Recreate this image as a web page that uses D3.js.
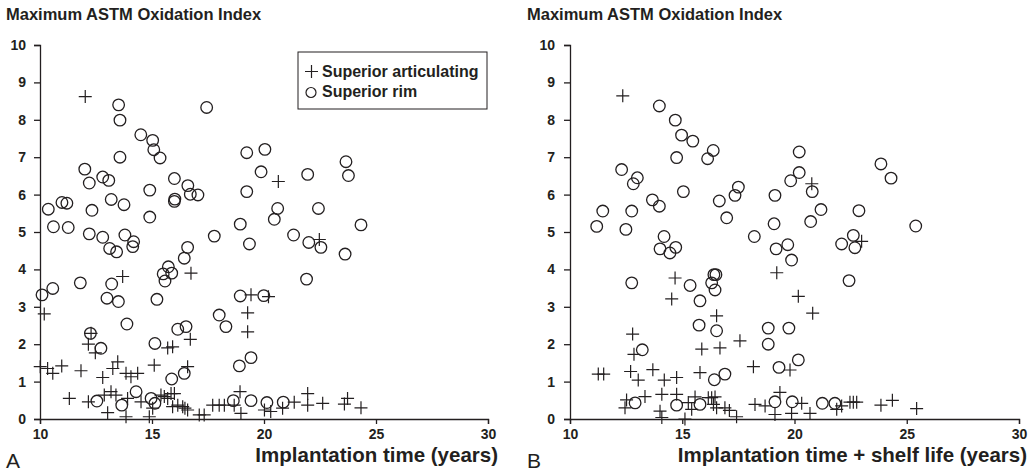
<!DOCTYPE html>
<html>
<head>
<meta charset="utf-8">
<script src="https://cdn.jsdelivr.net/npm/d3@7"></script>
<style>
    body { margin: 0; background: #fff; }
    text { font-family: "Liberation Sans", Arial, sans-serif; fill: #231f20; }
    .axis path, .axis line { stroke: #231f20; stroke-width: 1.3; }
    .axis text { font-size: 14px; font-weight: bold; }
</style>
</head>
<body>
<script>
// Panel A: implantation time vs max oxidation index
var aArticulating = [
    [12.02, 8.62], [20.64, 6.35], [22.47, 4.80], [13.69, 3.81], [16.74, 3.90],
    [19.42, 3.32], [20.2, 3.27], [19.27, 2.84], [19.27, 2.33], [10.19, 2.81],
    [12.28, 2.29], [12.16, 2.0], [12.47, 1.77], [15.7, 1.9], [15.92, 1.93], [16.71, 2.13],
    [10.01, 1.40], [10.34, 1.35], [10.57, 1.22], [10.97, 1.42], [11.83, 1.29],
    [12.8, 1.11], [13.25, 1.35], [13.47, 1.53], [13.84, 1.22], [14.06, 1.13],
    [14.36, 1.22], [15.1, 1.44], [16.59, 1.40],
    [11.31, 0.55], [12.16, 0.46], [12.87, 0.64], [13.02, 0.17], [13.17, 0.73],
    [13.39, 0.64], [13.84, 0.06], [13.91, 0.55], [14.51, 0.46], [14.88, 0.06],
    [15.03, 0.29], [15.4, 0.64], [15.55, 0.6], [15.7, 0.55], [15.85, 0.68],
    [16.0, 0.68], [15.92, 0.33], [16.15, 0.37], [16.37, 0.33], [16.47, 0.29],
    [16.59, 0.24], [17.11, 0.11], [17.33, 0.11], [17.71, 0.37], [18.0, 0.37],
    [18.23, 0.37], [18.67, 0.37], [18.93, 0.73], [18.97, 0.15], [20.02, 0.24],
    [20.3, 0.2], [20.83, 0.29], [21.35, 0.45], [21.95, 0.68], [21.95, 0.37],
    [22.62, 0.42], [23.59, 0.40], [23.73, 0.55], [24.33, 0.30]
];
var aRim = [
    [10.37, 5.61], [10.98, 5.79], [11.2, 5.77], [10.6, 5.14], [11.26, 5.12],
    [12.0, 6.68], [12.2, 6.31], [12.32, 5.58], [12.8, 6.47], [13.07, 6.38],
    [13.18, 5.87], [13.51, 8.40], [13.57, 7.99], [13.57, 7.0], [13.75, 5.73],
    [14.5, 7.6], [15.03, 7.45], [15.08, 7.2], [15.36, 6.98], [14.9, 6.12],
    [14.9, 5.40], [16.0, 6.43], [16.0, 5.82], [16.02, 5.88], [16.6, 6.24],
    [16.71, 6.01], [17.05, 5.99], [17.44, 8.33], [18.94, 5.21], [19.23, 7.12],
    [19.23, 6.08], [20.04, 7.21], [19.87, 6.61], [21.95, 6.54], [23.66, 6.88],
    [23.77, 6.51], [20.61, 5.63], [20.46, 5.34], [22.43, 5.63], [24.33, 5.19],
    [12.2, 4.95], [12.8, 4.86], [13.11, 4.56], [13.42, 4.47], [13.79, 4.92],
    [14.18, 4.74], [14.14, 4.61], [17.78, 4.89], [19.35, 4.68], [15.73, 4.07],
    [15.5, 3.88], [15.88, 3.9], [15.58, 3.69], [16.44, 4.30], [16.59, 4.59],
    [10.09, 3.32], [10.57, 3.49], [11.8, 3.64], [13.2, 3.61], [12.99, 3.23],
    [13.5, 3.14], [15.22, 3.2], [13.88, 2.54], [12.25, 2.29], [12.72, 1.89],
    [15.13, 2.02], [16.15, 2.40], [16.52, 2.47], [15.88, 1.07], [16.44, 1.22],
    [18.0, 2.78], [18.3, 2.47], [18.94, 3.29], [18.9, 1.42], [19.42, 1.64],
    [12.54, 0.48], [13.65, 0.37], [14.29, 0.73], [14.96, 0.55], [15.13, 0.42],
    [18.63, 0.49], [19.42, 0.49], [21.32, 4.92], [22.0, 4.72], [22.54, 4.59],
    [23.62, 4.41], [21.9, 3.74], [19.99, 3.30], [20.13, 0.44], [20.86, 0.45]
];

// Panel B: implantation time + shelf life
var bArticulating = [
    [12.35, 8.64], [20.77, 6.29], [22.99, 4.75], [19.21, 3.91], [14.68, 3.77],
    [14.53, 3.21], [20.17, 3.28], [20.81, 2.83], [16.53, 2.76], [12.79, 2.27],
    [12.85, 1.73], [15.87, 1.87], [16.68, 1.9], [17.57, 2.09], [18.17, 1.40],
    [19.8, 1.31], [11.26, 1.2], [11.5, 1.2], [12.7, 1.27], [13.04, 1.04],
    [13.69, 1.32], [14.2, 1.04], [14.75, 1.11], [15.79, 1.24], [12.52, 0.51],
    [13.34, 0.6], [14.09, 0.66], [14.01, 0.21], [14.09, 0.04], [14.75, 0.66],
    [15.12, 0.0], [15.27, 0.44], [15.57, 0.59], [15.42, 0.26], [16.16, 0.57],
    [16.31, 0.57], [16.46, 0.59], [16.39, 0.39], [16.53, 0.30], [16.9, 0.3],
    [17.1, 0.23], [17.42, 0.06], [18.24, 0.39], [18.69, 0.35], [19.13, 0.12],
    [19.35, 0.71], [19.87, 0.15], [20.32, 0.42], [20.69, 0.15], [21.88, 0.26],
    [22.1, 0.35], [22.47, 0.45], [22.62, 0.45], [22.77, 0.45], [23.85, 0.37],
    [24.36, 0.5], [25.44, 0.28], [12.45, 0.3]
];
var bRim = [
    [13.98, 8.37], [14.69, 7.99], [14.97, 7.59], [15.47, 7.43], [16.38, 7.18],
    [16.13, 6.96], [14.75, 6.99], [12.3, 6.67], [12.82, 6.29], [13.0, 6.45],
    [15.05, 6.08], [13.67, 5.86], [13.98, 5.69], [11.46, 5.56], [12.75, 5.56],
    [16.65, 5.83], [16.98, 5.38], [17.5, 6.2], [17.35, 5.98], [19.13, 5.98],
    [19.09, 5.22], [11.19, 5.15], [12.49, 5.07], [20.21, 7.14], [20.21, 6.59],
    [19.83, 6.37], [20.79, 6.08], [21.18, 5.60], [20.72, 5.28], [22.87, 5.57],
    [23.85, 6.82], [24.3, 6.44], [25.4, 5.16], [22.62, 4.91], [22.1, 4.68],
    [22.69, 4.58], [19.18, 4.55], [19.7, 4.66], [19.87, 4.25], [22.43, 3.70],
    [18.83, 2.43], [19.75, 2.43], [18.83, 2.0], [20.17, 1.58], [19.31, 1.38],
    [14.19, 4.88], [14.01, 4.55], [14.45, 4.44], [14.71, 4.59], [18.21, 4.88],
    [12.75, 3.64], [15.35, 3.57], [16.31, 3.64], [16.41, 3.86], [16.5, 3.86],
    [16.46, 3.45], [15.79, 3.16], [15.75, 2.51], [16.53, 2.36], [13.22, 1.85],
    [16.43, 1.05], [16.9, 1.20], [12.9, 0.43], [14.75, 0.37], [15.79, 0.39],
    [19.13, 0.46], [19.9, 0.46], [21.24, 0.42], [21.8, 0.42]
];

var xTicks = [10, 15, 20, 25, 30];
var yTicks = [0, 1, 2, 3, 4, 5, 6, 7, 8, 9, 10];
var yTitle = "Maximum ASTM Oxidation Index";
var legendLabels = ["Superior articulating", "Superior rim"];

var svg = d3.select("body").append("svg")
    .attr("width", 1029)
    .attr("height", 473);

var ink = "#231f20";
var plusHalf = 6.5;

function drawPanel(p) {
    var x = d3.scaleLinear().domain([10, 30]).range([p.left, p.right]);
    var y = d3.scaleLinear().domain([0, 10]).range([419, 45]);

    svg.append("g")
        .attr("class", "axis")
        .attr("transform", "translate(0,419)")
        .call(d3.axisBottom(x).tickValues(xTicks).tickSize(5).tickPadding(5).tickFormat(d3.format("d")));

    svg.append("g")
        .attr("class", "axis")
        .attr("transform", "translate(" + p.left + ",0)")
        .call(d3.axisLeft(y).tickValues(yTicks).tickSize(6).tickPadding(p.yPad).tickFormat(d3.format("d")));

    svg.selectAll(".domain").attr("fill", "none");

    // y title sits above the axis
    svg.append("text")
        .attr("x", p.titleX)
        .attr("y", 20)
        .attr("font-size", "16.5px")
        .attr("font-weight", "bold")
        .text(yTitle);

    svg.append("text")
        .attr("x", p.labelEnd)
        .attr("y", 462)
        .attr("text-anchor", "end")
        .attr("font-size", "20.5px")
        .attr("font-weight", "bold")
        .text(p.xLabel);

    svg.append("text")
        .attr("x", p.letterX)
        .attr("y", 468)
        .attr("font-size", "21px")
        .text(p.letter);

    var marks = svg.append("g");

    marks.selectAll(".rim")
        .data(p.rim)
        .enter()
        .append("circle")
        .attr("cx", function (d) { return x(d[0]); })
        .attr("cy", function (d) { return y(d[1]); })
        .attr("r", 5.8)
        .attr("fill", "none")
        .attr("stroke", ink)
        .attr("stroke-width", 1.3);

    marks.selectAll(".art")
        .data(p.plus)
        .enter()
        .append("path")
        .attr("d", function (d) {
            var cx = x(d[0]), cy = y(d[1]);
            return "M" + (cx - plusHalf) + "," + cy + "H" + (cx + plusHalf) +
                "M" + cx + "," + (cy - plusHalf) + "V" + (cy + plusHalf);
        })
        .attr("fill", "none")
        .attr("stroke", ink)
        .attr("stroke-width", 1.2);
}

drawPanel({left: 40, right: 488, yPad: 8, titleX: 6, labelEnd: 498, letterX: 6,
    xLabel: "Implantation time (years)", letter: "A", plus: aArticulating, rim: aRim});
drawPanel({left: 570, right: 1019, yPad: 9, titleX: 527, labelEnd: 1027, letterX: 527,
    xLabel: "Implantation time + shelf life (years)", letter: "B", plus: bArticulating, rim: bRim});

// legend, panel A only
var legend = svg.append("g");
legend.append("rect")
    .attr("x", 298)
    .attr("y", 52)
    .attr("width", 189)
    .attr("height", 57)
    .attr("fill", "#fff")
    .attr("stroke", ink)
    .attr("stroke-width", 1);

legend.append("path")
    .attr("d", "M305,71.5H318M311.5,65V78")
    .attr("stroke", ink)
    .attr("stroke-width", 1.2);

legend.append("circle")
    .attr("cx", 311)
    .attr("cy", 92.5)
    .attr("r", 5)
    .attr("fill", "none")
    .attr("stroke", ink)
    .attr("stroke-width", 1.2);

legend.selectAll(".leg")
    .data(legendLabels)
    .enter()
    .append("text")
    .attr("x", 322)
    .attr("y", function (d, i) { return 77 + i * 20; })
    .attr("font-size", "16px")
    .attr("font-weight", "bold")
    .text(function (d) { return d; });
</script>
</body>
</html>
